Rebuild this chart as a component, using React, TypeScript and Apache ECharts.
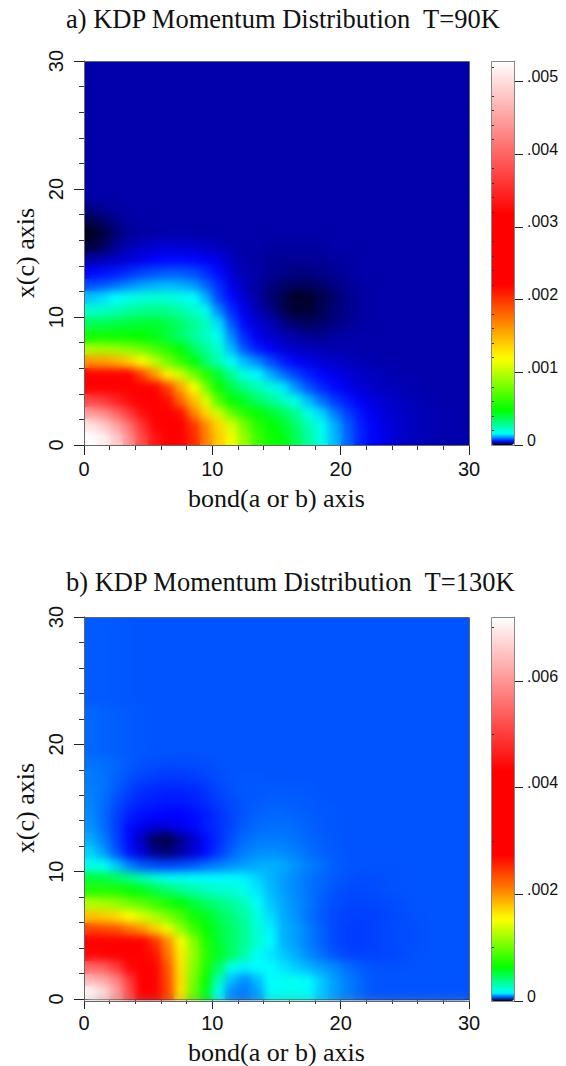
import React, { useEffect, useRef } from "react";
import * as echarts from "echarts";

const titleA = "a) KDP Momentum Distribution  T=90K";
const titleB = "b) KDP Momentum Distribution  T=130K";
const xName = "bond(a or b) axis";
const yName = "x(c) axis";

// Cell values in units of 1e-6, rows from y=29.5 (top) to y=0.5, columns from x=0.5 to x=29.5.
const bgA = [16,16,16,16,16,16,16,16,16,16,16,16,16,16,16,16,16,16,16,16,16,16,16,16,16,16,16,16,16,16];
const rowsA: number[][] = [
  bgA, bgA, bgA, bgA, bgA, bgA, bgA, bgA, bgA, bgA, bgA,
  [12,14,15,16,16,16,16,16,16,16,16,16,16,16,16,16,16,16,16,16,16,16,16,16,16,16,16,16,16,16],
  [7,10,13,15,16,16,16,16,16,16,16,16,16,16,16,16,16,16,16,16,16,16,16,16,16,16,16,16,16,16],
  [3,6,11,14,15,16,17,17,17,16,16,16,16,16,16,16,16,16,16,16,16,16,16,16,16,16,16,16,16,16],
  [6,9,14,19,24,28,30,30,28,26,22,18,16,16,15,15,15,15,15,16,16,16,16,16,16,16,16,16,16,16],
  [16,20,25,32,38,44,48,48,46,42,36,24,16,15,14,14,14,14,14,15,15,16,16,16,16,16,16,16,16,16],
  [45,50,55,62,70,76,80,80,75,62,48,30,18,16,14,13,12,12,13,14,15,16,16,16,16,16,16,16,16,16],
  [75,80,90,100,110,115,118,115,105,85,62,38,22,15,12,10,9,9,10,12,14,15,16,16,16,16,16,16,16,16],
  [125,135,150,170,190,200,195,175,150,115,72,48,28,15,11,7,4,4,7,10,13,15,16,16,16,16,16,16,16,16],
  [210,220,240,270,290,300,290,260,220,170,100,60,38,20,13,8,5,5,8,11,13,15,16,16,16,16,16,16,16,16],
  [360,370,390,400,410,410,390,340,290,230,135,80,47,30,20,13,10,9,10,12,14,15,16,16,16,16,16,16,16,16],
  [520,520,510,500,480,450,400,340,280,220,165,100,60,40,28,20,16,14,14,15,16,16,16,16,16,16,16,16,16,16],
  [950,940,910,860,780,680,580,470,360,280,210,120,78,55,42,32,26,22,20,18,17,16,16,16,16,16,16,16,16,16],
  [1600,1580,1500,1380,1200,1000,800,620,460,340,240,160,120,100,75,56,44,36,30,26,22,20,18,17,16,16,16,16,16,16],
  [2400,2380,2350,2200,1950,1600,1250,1050,800,580,410,280,180,145,115,90,72,56,46,38,32,27,23,20,18,17,16,16,16,16],
  [3170,3100,2750,2550,2350,2200,1950,1550,1190,800,510,380,310,240,195,140,105,78,60,48,38,31,26,22,20,18,17,16,16,16],
  [3750,3650,3450,3250,2750,2350,2150,1800,1450,1100,700,480,420,350,290,230,170,120,90,68,54,42,34,28,24,21,18,17,16,16],
  [4450,4300,4000,3650,3300,2750,2400,2150,1700,1350,1050,760,570,480,420,360,290,175,130,95,70,52,40,32,27,23,20,18,17,16],
  [5050,4850,4500,4100,3600,3200,2550,2250,2000,1650,1350,1080,800,580,480,420,340,250,165,115,82,58,44,35,28,24,20,18,17,16],
  [5280,5150,4850,4350,3800,3350,2700,2300,2050,1700,1400,1150,880,650,520,460,370,270,175,120,85,60,45,36,28,23,20,18,17,16],
];

const topB = [72,72,71,70,69,69,69,69,69,69,69,69,69,69,69,69,69,69,69,69,69,69,69,69,69,69,69,69,69,69];
const upperB = [78,76,74,72,70,69,69,69,69,69,69,69,69,69,69,69,69,69,69,69,69,69,69,69,69,69,69,69,69,69];
const rowsB: number[][] = [
  topB, topB, topB, topB, topB, topB, topB,
  upperB, upperB, upperB, upperB,
  [84,82,78,72,68,66,64,64,65,66,68,69,69,69,69,69,69,69,69,69,69,69,69,69,69,69,69,69,69,69],
  [88,84,76,68,62,58,56,56,58,62,66,69,70,70,69,69,69,69,69,69,69,69,69,69,69,69,69,69,69,69],
  [90,84,72,60,52,48,46,46,48,54,62,68,70,70,72,72,71,70,69,69,69,69,69,69,69,69,69,69,69,69],
  [92,82,66,54,46,42,40,40,44,50,58,64,70,72,74,74,73,72,70,69,69,69,69,69,69,69,69,69,69,69],
  [95,80,60,44,36,32,30,30,34,42,52,62,70,76,78,78,76,74,72,70,69,69,69,69,69,69,69,69,69,69],
  [100,82,58,34,26,22,22,26,32,42,52,62,74,80,82,82,80,76,72,70,69,69,69,69,69,69,69,69,69,69],
  [112,90,60,32,18,8,6,12,20,34,50,68,80,86,88,88,84,78,74,71,69,69,69,69,69,69,69,69,69,69],
  [130,105,70,38,22,12,10,14,22,34,55,76,90,96,98,96,90,82,76,72,69,69,69,69,69,69,69,69,69,69],
  [190,170,125,92,72,65,62,65,72,82,90,98,105,112,114,110,100,90,82,74,70,68,68,68,68,69,69,69,69,69],
  [520,500,450,380,300,230,180,165,155,150,150,150,145,130,115,105,95,85,78,72,68,66,66,67,68,69,69,69,69,69],
  [760,750,720,650,590,510,440,370,320,280,250,225,190,140,118,105,95,85,76,68,65,64,65,67,68,69,69,69,69,69],
  [1250,1220,1150,1050,950,840,720,620,520,450,390,340,270,165,125,110,98,86,74,66,62,61,62,64,66,68,69,69,69,69],
  [1800,1760,1680,1530,1400,1250,1080,900,680,570,480,400,320,210,135,112,100,84,72,64,60,59,60,62,65,67,68,69,69,69],
  [2400,2380,2300,2150,2000,1750,1480,1150,850,640,520,430,350,230,145,115,105,90,76,64,58,57,60,63,65,66,68,69,69,69],
  [3400,3350,3200,2950,2780,2500,2050,1500,1100,730,540,430,350,240,150,115,105,90,76,64,58,57,60,63,65,66,68,69,69,69],
  [4400,4350,4100,3600,3000,2650,2150,1620,1150,770,560,440,310,165,140,125,112,96,82,70,62,60,60,62,64,67,68,69,69,69],
  [5500,5400,5000,4400,3500,2900,2300,1650,1100,730,440,180,145,150,150,140,128,115,105,95,82,74,69,67,68,68,69,69,69,69],
  [6400,6200,5800,5000,3900,3000,2350,1680,1050,640,280,120,95,120,155,170,175,150,125,105,90,78,70,69,69,69,69,69,69,69],
  [7100,6800,6100,5200,4100,3100,2400,1650,1000,580,170,95,88,105,160,180,185,150,125,105,90,78,70,69,69,69,69,69,69,69],
];

const scaleMaxA = 5280;
const scaleMaxB = 7200;
const barMajorA = [0, 1000, 2000, 3000, 4000, 5000];
const barMinorA = [200,400,600,800,1200,1400,1600,1800,2200,2400,2600,2800,3200,3400,3600,3800,4200,4400,4600,4800,5200];
const barMajorB = [0, 2000, 4000, 6000];
const barMinorB = [1000, 3000, 5000, 7000];

const stopsA: [number, number[]][] = [
  [0, [0, 0, 0]], [0.003, [0, 0, 170]], [0.0085, [0, 0, 255]], [0.028, [0, 255, 255]],
  [0.09, [0, 255, 0]], [0.225, [255, 255, 0]], [0.322, [255, 128, 0]], [0.417, [255, 0, 0]],
  [0.6, [255, 0, 0]], [1, [255, 255, 255]],
];
const stopsB: [number, number[]][] = [
  [0, [0, 0, 0]], [0.002, [0, 0, 170]], [0.004, [0, 0, 255]], [0.021, [0, 255, 255]],
  [0.087, [0, 255, 0]], [0.213, [255, 255, 0]], [0.29, [255, 128, 0]], [0.38, [255, 0, 0]],
  [0.6, [255, 0, 0]], [1, [255, 255, 255]],
];

function palette(stops: [number, number[]][]): string[] {
  const out: string[] = [];
  const n = 1000;
  for (let i = 0; i <= n; i++) {
    const t = i / n;
    let k = 0;
    while (k < stops.length - 2 && stops[k + 1][0] < t) k++;
    const [t0, c0] = stops[k];
    const [t1, c1] = stops[k + 1];
    const f = Math.min(1, Math.max(0, (t - t0) / (t1 - t0)));
    const c = c0.map((v, j) => Math.round(v + (c1[j] - v) * f));
    out.push(`rgb(${c[0]},${c[1]},${c[2]})`);
  }
  return out;
}

function cells(rows: number[][]) {
  const out: number[][] = [];
  rows.forEach((row, r) => row.forEach((v, c) => out.push([c + 0.5, 29.5 - r, v * 1e-6])));
  return out;
}

const SERIF = "'Liberation Serif', serif";
const SANS = "'Liberation Sans', sans-serif";
const PLOT_L = 84, PLOT_W = 385, PLOT_H = 384, TOP_A = 61, TOP_B = 617, BAR_L = 491, BAR_W = 23;

function plotAxes(i: number) {
  const lineCol = "#222";
  const common = {
    type: "value", min: 0, max: 30, interval: 10, gridIndex: i, z: 10,
    splitLine: { show: false },
    axisLine: { show: true, onZero: false, lineStyle: { color: lineCol, width: 1 } },
    axisTick: { show: true, length: 10, lineStyle: { color: lineCol } },
    minorTick: { show: true, splitNumber: 5, length: 5, lineStyle: { color: "#333" } },
    nameLocation: "middle",
    nameTextStyle: { fontFamily: SERIF, fontSize: 26, color: "#111" },
  };
  return {
    x: { ...common, name: xName, nameGap: 40,
      axisLabel: { fontFamily: SANS, fontSize: 20, color: "#111", margin: 14 } },
    y: { ...common, name: yName, nameGap: 42,
      axisLabel: { fontFamily: SANS, fontSize: 20, color: "#111", rotate: 90, margin: 18 } },
  };
}

function barY(grid: number, max: number, major: number[], minor: number[]) {
  const line = { show: true, onZero: false, lineStyle: { color: "#888", width: 1 } };
  return [
    { type: "value", gridIndex: grid, position: "right", min: 0, max, z: 10, splitLine: { show: false },
      axisLine: line,
      axisTick: { show: true, length: 9, customValues: major, lineStyle: { color: "#222" } },
      axisLabel: { customValues: major, fontFamily: SANS, fontSize: 16, color: "#111", margin: 13,
        verticalAlign: "bottom", lineHeight: 10,
        formatter: (v: number) => (v === 0 ? "0" : ".00" + Math.round(v * 1000)) } },
    { type: "value", gridIndex: grid, position: "right", min: 0, max, z: 10, splitLine: { show: false },
      axisLine: { show: false },
      axisTick: { show: true, length: 3, customValues: minor, lineStyle: { color: "#333" } },
      axisLabel: { show: false } },
  ];
}

function renderCell(_: any, api: any) {
  const x = api.value(0), y = api.value(1);
  const p0 = api.coord([x - 0.5, y + 0.5]);
  const p1 = api.coord([x + 0.5, y - 0.5]);
  const l = Math.round(p0[0]), t = Math.round(p0[1]);
  return {
    type: "rect",
    shape: { x: l, y: t, width: Math.round(p1[0]) - l, height: Math.round(p1[1]) - t },
    style: { fill: api.visual("color") },
  };
}

function buildOption() {
  const a = plotAxes(0), b = plotAxes(1);
  const frame = (x: number, y: number, w: number, h: number, stroke: string) => ({
    type: "rect", z: 20, silent: true, shape: { x: x + 0.5, y: y + 0.5, width: w, height: h },
    style: { fill: "none", stroke, lineWidth: 1 },
  });
  return {
    animation: false,
    backgroundColor: "#fff",
    title: [
      { text: titleA, left: 61, top: 0, textStyle: { fontFamily: SERIF, fontSize: 26.5, fontWeight: "normal", color: "#111" } },
      { text: titleB, left: 61, top: 563, textStyle: { fontFamily: SERIF, fontSize: 26.5, fontWeight: "normal", color: "#111" } },
    ],
    grid: [
      { left: PLOT_L, top: TOP_A, width: PLOT_W, height: PLOT_H },
      { left: PLOT_L, top: TOP_B, width: PLOT_W, height: PLOT_H },
      { left: BAR_L, top: TOP_A, width: BAR_W, height: PLOT_H },
      { left: BAR_L, top: TOP_B, width: BAR_W, height: PLOT_H },
    ],
    xAxis: [a.x, b.x,
      { type: "value", gridIndex: 2, show: false, min: 0, max: 1 },
      { type: "value", gridIndex: 3, show: false, min: 0, max: 1 }],
    yAxis: [a.y, b.y,
      ...barY(2, scaleMaxA / 1e6, barMajorA.map((v) => v / 1e6), barMinorA.map((v) => v / 1e6)),
      ...barY(3, scaleMaxB / 1e6, barMajorB.map((v) => v / 1e6), barMinorB.map((v) => v / 1e6))],
    visualMap: [
      { type: "continuous", seriesIndex: 0, dimension: 2, min: 0, max: scaleMaxA / 1e6, left: BAR_L, top: TOP_A,
        itemWidth: BAR_W, itemHeight: PLOT_H, padding: 0, calculable: false, hoverLink: false, text: ["", ""],
        showLabel: false, inRange: { color: palette(stopsA) } },
      { type: "continuous", seriesIndex: 1, dimension: 2, min: 0, max: scaleMaxB / 1e6, left: BAR_L, top: TOP_B,
        itemWidth: BAR_W, itemHeight: PLOT_H, padding: 0, calculable: false, hoverLink: false, text: ["", ""],
        showLabel: false, inRange: { color: palette(stopsB) } },
    ],
    series: [
      { type: "custom", name: "T=90K", xAxisIndex: 0, yAxisIndex: 0, clip: true, encode: { x: 0, y: 1 },
        renderItem: renderCell, data: cells(rowsA), silent: true },
      { type: "custom", name: "T=130K", xAxisIndex: 1, yAxisIndex: 1, clip: true, encode: { x: 0, y: 1 },
        renderItem: renderCell, data: cells(rowsB), silent: true },
    ],
    graphic: [
      frame(PLOT_L, TOP_A, PLOT_W, PLOT_H, "#666"),
      frame(PLOT_L, TOP_B, PLOT_W, PLOT_H, "#666"),
      frame(BAR_L, TOP_A, BAR_W, PLOT_H, "#888"),
      frame(BAR_L, TOP_B, BAR_W, PLOT_H, "#888"),
    ],
  };
}

export default function App() {
  const ref = useRef<HTMLDivElement>(null);
  useEffect(() => {
    const chart = echarts.init(ref.current!, undefined, { renderer: "svg" });
    chart.setOption(buildOption() as any);
    return () => chart.dispose();
  }, []);
  const smooth = (top: number): React.CSSProperties => ({
    position: "absolute", left: PLOT_L + 1, top: top + 1, width: PLOT_W - 1, height: PLOT_H - 1,
    backdropFilter: "blur(4.5px)", WebkitBackdropFilter: "blur(4.5px)", pointerEvents: "none",
  });
  return (
    <div style={{ position: "absolute", left: 0, top: 0, width: 566, height: 1066, background: "#fff" }}>
      <div ref={ref} style={{ width: 566, height: 1066 }} />
      <div style={smooth(TOP_A)} />
      <div style={smooth(TOP_B)} />
    </div>
  );
}
